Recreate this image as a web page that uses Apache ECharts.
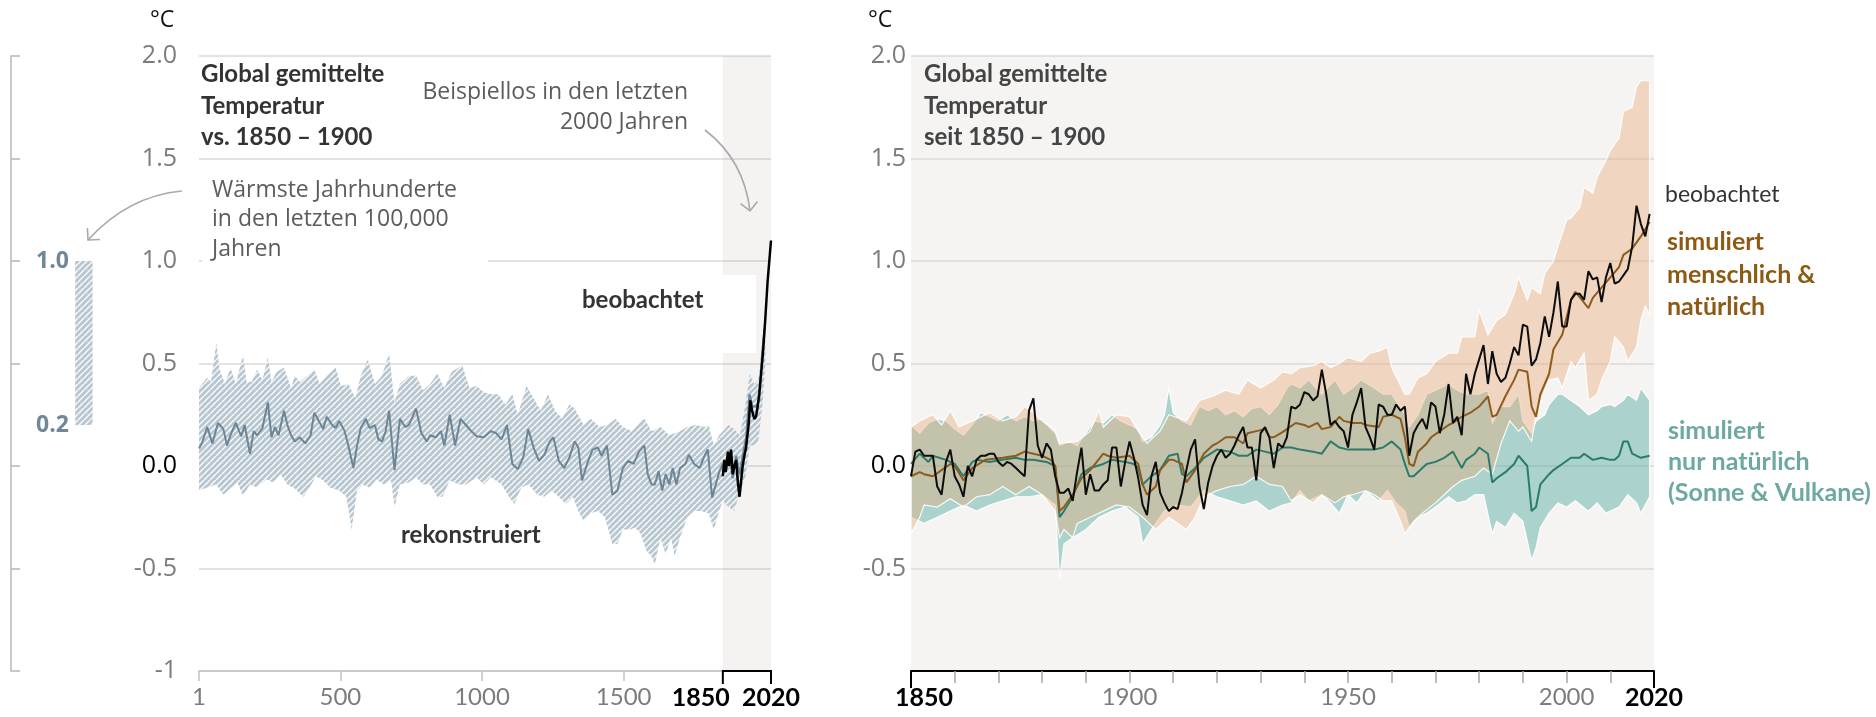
<!DOCTYPE html>
<html>
<head>
<meta charset="utf-8">
<script src="https://cdn.jsdelivr.net/npm/echarts@6/dist/echarts.min.js"></script>
<style>
  html, body { margin: 0; padding: 0; background: #ffffff; }
  #chart { width: 1876px; height: 717px; }
</style>
</head>
<body>
<div id="chart"></div>
<script>
// ---------- Left panel: reconstructed temperature, years 1-2000 (°C vs. 1850-1900) ----------
const reconMedian = [
  [1,0.085],[11,0.11],[30,0.19],[48,0.11],[68,0.21],[87,0.18],[100,0.10],[112,0.15],[131,0.21],[150,0.145],
  [162,0.20],[181,0.06],[194,0.17],[206,0.15],[225,0.185],[244,0.31],[257,0.14],[269,0.19],[282,0.15],[301,0.27],
  [313,0.20],[326,0.15],[339,0.12],[357,0.14],[376,0.11],[395,0.15],[408,0.26],[420,0.23],[439,0.18],[452,0.24],
  [471,0.20],[483,0.185],[496,0.22],[515,0.17],[528,0.10],[546,-0.01],[559,0.10],[572,0.185],[590,0.23],[603,0.185],
  [622,0.20],[634,0.13],[647,0.12],[660,0.17],[672,0.27],[691,-0.02],[710,0.23],[729,0.19],[742,0.20],[767,0.28],
  [786,0.16],[805,0.12],[817,0.15],[836,0.14],[855,0.17],[867,0.10],[886,0.25],[905,0.10],[924,0.23],[943,0.20],
  [962,0.17],[981,0.145],[1006,0.14],[1031,0.17],[1050,0.16],[1069,0.13],[1088,0.20],[1107,0.01],[1126,-0.015],[1145,0.04],
  [1163,0.18],[1182,0.09],[1201,0.025],[1220,0.055],[1239,0.12],[1252,0.14],[1271,0.025],[1290,-0.01],[1308,0.04],[1327,0.12],
  [1340,0.09],[1353,-0.07],[1371,0.01],[1390,0.08],[1409,0.09],[1422,0.05],[1441,0.10],[1460,-0.14],[1478,-0.12],[1497,-0.01],
  [1516,0.025],[1535,0.01],[1554,0.07],[1573,0.10],[1585,-0.04],[1598,-0.09],[1610,-0.09],[1623,-0.025],[1636,-0.12],[1648,-0.04],
  [1661,-0.09],[1673,-0.01],[1686,-0.09],[1699,-0.01],[1718,0.01],[1730,0.055],[1749,0.01],[1768,-0.01],[1787,0.055],[1797,0.08],
  [1812,-0.155],[1825,-0.09],[1838,-0.025],[1850,0.01],[1862,-0.02],[1873,0.05],[1885,-0.06],[1897,0.05],[1909,-0.04],[1920,0.05],
  [1932,0.14],[1944,0.35],[1955,0.29],[1967,0.29],[1979,0.32],[1988,0.54],[1997,0.67]
];
const reconHigh = [
  [1,0.38],[11,0.40],[30,0.43],[43,0.41],[62,0.60],[74,0.47],[93,0.40],[112,0.48],[131,0.40],[156,0.54],
  [169,0.41],[187,0.41],[206,0.47],[225,0.42],[244,0.53],[257,0.41],[275,0.46],[301,0.48],[326,0.38],[339,0.44],
  [357,0.41],[383,0.44],[408,0.47],[427,0.40],[452,0.44],[483,0.48],[502,0.39],[528,0.40],[553,0.33],[572,0.44],
  [597,0.52],[622,0.40],[647,0.44],[672,0.55],[691,0.31],[710,0.40],[742,0.44],[767,0.44],[792,0.37],[817,0.40],
  [842,0.45],[867,0.38],[893,0.46],[930,0.49],[956,0.38],[981,0.39],[1006,0.36],[1031,0.35],[1057,0.35],[1082,0.30],
  [1107,0.35],[1126,0.25],[1157,0.39],[1182,0.33],[1207,0.27],[1233,0.35],[1258,0.27],[1283,0.23],[1308,0.30],[1327,0.28],
  [1359,0.20],[1384,0.23],[1415,0.19],[1441,0.20],[1472,0.23],[1497,0.19],[1529,0.17],[1560,0.22],[1573,0.23],[1598,0.17],
  [1630,0.19],[1661,0.15],[1699,0.17],[1724,0.19],[1755,0.20],[1787,0.19],[1800,0.20],[1818,0.10],[1837,0.15],[1850,0.17],
  [1870,0.20],[1890,0.18],[1910,0.15],[1930,0.30],[1945,0.45],[1960,0.40],[1975,0.42],[1990,0.60],[2000,0.75]
];
const reconLow = [
  [1,-0.12],[30,-0.105],[62,-0.09],[87,-0.14],[112,-0.11],[137,-0.08],[156,-0.145],[181,-0.09],[206,-0.105],[238,-0.065],
  [263,-0.08],[288,-0.04],[313,-0.09],[339,-0.11],[370,-0.15],[389,-0.11],[414,-0.05],[439,-0.07],[464,-0.105],[496,-0.12],
  [521,-0.15],[540,-0.31],[559,-0.12],[578,-0.09],[603,-0.105],[628,-0.065],[653,-0.09],[679,-0.07],[691,-0.20],[710,-0.09],
  [742,-0.08],[767,-0.055],[792,-0.09],[817,-0.09],[842,-0.15],[861,-0.15],[886,-0.07],[918,-0.09],[943,-0.09],[981,-0.055],
  [1006,-0.09],[1031,-0.055],[1069,-0.09],[1095,-0.15],[1114,-0.185],[1139,-0.105],[1164,-0.09],[1195,-0.14],[1220,-0.15],[1245,-0.12],
  [1271,-0.15],[1296,-0.185],[1321,-0.15],[1340,-0.22],[1359,-0.27],[1384,-0.23],[1409,-0.22],[1434,-0.25],[1460,-0.38],[1478,-0.38],
  [1497,-0.31],[1522,-0.31],[1541,-0.30],[1560,-0.33],[1579,-0.41],[1598,-0.44],[1610,-0.48],[1630,-0.35],[1648,-0.43],[1667,-0.35],
  [1680,-0.44],[1699,-0.35],[1724,-0.25],[1749,-0.22],[1774,-0.22],[1800,-0.23],[1818,-0.31],[1837,-0.22],[1850,-0.17],[1870,-0.20],
  [1890,-0.22],[1905,-0.15],[1930,-0.05],[1945,0.10],[1960,0.10],[1975,0.12],[1990,0.30],[2000,0.50]
];
// observed, long view (1850-2020)
const obsLong = [
  [1850,-0.05],[1855,0.03],[1860,-0.03],[1868,0.07],[1872,0.0],[1879,0.08],[1885,-0.04],[1891,0.0],[1897,0.03],[1903,-0.08],
  [1909,-0.15],[1914,-0.08],[1920,0.0],[1926,0.05],[1932,0.09],[1936,0.14],[1941,0.20],[1947,0.32],[1953,0.27],[1961,0.23],
  [1967,0.24],[1973,0.29],[1979,0.36],[1985,0.45],[1991,0.54],[2000,0.72],[2008,0.90],[2020,1.10]
];
// warmest centuries of the last 100,000 years
const warmRange = [0.2, 1.0];

// ---------- Right panel: 1850-2020 ----------
const obsStartYear = 1850;
const obsAnnual = [
  -0.05,0.07,0.08,0.05,0.05,0.05,-0.10,-0.14,0.02,0.08,
  -0.05,-0.09,-0.15,0.00,-0.05,0.03,0.05,0.05,0.06,0.06,
  0.02,0.00,0.02,0.01,-0.01,-0.03,-0.05,0.27,0.33,0.10,
  0.04,0.11,0.08,-0.05,-0.13,-0.13,-0.11,-0.17,-0.03,0.09,
  -0.14,-0.04,-0.12,-0.12,-0.09,-0.07,0.09,0.09,-0.10,0.02,
  0.12,0.04,-0.06,-0.19,-0.24,-0.05,0.02,-0.13,-0.18,-0.22,
  -0.20,-0.21,-0.13,-0.02,0.08,0.13,-0.10,-0.21,-0.08,0.00,
  0.05,0.08,0.04,0.06,0.10,0.15,0.19,0.09,0.09,-0.07,
  0.16,0.19,0.14,-0.01,0.11,0.09,0.14,0.29,0.28,0.30,
  0.36,0.35,0.32,0.34,0.47,0.35,0.20,0.22,0.19,0.17,
  0.09,0.25,0.31,0.38,0.19,0.14,0.08,0.30,0.29,0.25,
  0.25,0.30,0.27,0.29,0.05,0.16,0.20,0.23,0.18,0.31,
  0.29,0.16,0.25,0.40,0.21,0.24,0.15,0.45,0.35,0.45,
  0.52,0.59,0.40,0.56,0.45,0.41,0.43,0.50,0.58,0.54,
  0.69,0.68,0.49,0.52,0.60,0.73,0.63,0.75,0.90,0.68,
  0.68,0.81,0.84,0.84,0.81,0.95,0.91,0.92,0.80,0.92,
  0.99,0.89,0.90,0.93,0.96,1.07,1.27,1.18,1.12,1.23
];
// simulated: human & natural drivers
const hnMedian = [
  [1850,-0.05],[1852,-0.03],[1853,-0.04],[1855,-0.05],[1857,-0.02],[1859,0.01],[1860,0.0],[1862,-0.07],[1864,-0.01],[1867,0.03],
  [1871,0.04],[1874,0.05],[1876,0.07],[1878,0.06],[1880,0.05],[1882,0.03],[1883,0.0],[1884,-0.22],[1885,-0.20],[1887,-0.14],
  [1889,-0.06],[1891,-0.02],[1894,0.06],[1895,0.05],[1897,0.04],[1900,0.05],[1901,0.03],[1902,0.01],[1903,-0.09],[1904,-0.14],
  [1906,-0.10],[1907,-0.02],[1909,0.03],[1910,0.03],[1912,0.01],[1913,-0.08],[1915,-0.02],[1917,0.06],[1919,0.10],[1920,0.11],
  [1922,0.14],[1924,0.14],[1926,0.11],[1927,0.16],[1929,0.17],[1931,0.18],[1932,0.14],[1933,0.14],[1935,0.165],[1936,0.18],
  [1938,0.21],[1940,0.20],[1941,0.19],[1943,0.21],[1944,0.18],[1946,0.19],[1948,0.24],[1949,0.22],[1951,0.21],[1953,0.21],
  [1954,0.20],[1957,0.19],[1958,0.24],[1960,0.25],[1962,0.23],[1963,0.14],[1964,0.01],[1965,0.0],[1966,0.07],[1968,0.11],
  [1969,0.14],[1971,0.17],[1973,0.20],[1974,0.21],[1976,0.24],[1978,0.26],[1980,0.29],[1982,0.34],[1983,0.24],[1984,0.25],
  [1986,0.34],[1988,0.42],[1989,0.47],[1991,0.46],[1992,0.29],[1993,0.24],[1994,0.35],[1996,0.45],[1997,0.57],[1999,0.64],
  [2001,0.81],[2002,0.85],[2005,0.77],[2006,0.82],[2008,0.87],[2010,0.92],[2012,0.97],[2013,1.03],[2015,1.06],[2017,1.12],
  [2019,1.19]
];
const hnHigh = [
  [1850,0.19],[1852,0.22],[1855,0.25],[1857,0.20],[1859,0.27],[1861,0.19],[1864,0.22],[1868,0.26],[1871,0.22],[1874,0.24],
  [1876,0.29],[1878,0.26],[1880,0.22],[1883,0.17],[1884,0.11],[1888,0.12],[1891,0.17],[1893,0.27],[1894,0.19],[1897,0.25],
  [1900,0.24],[1902,0.17],[1904,0.11],[1907,0.17],[1909,0.25],[1913,0.22],[1916,0.32],[1919,0.34],[1922,0.37],[1925,0.35],
  [1927,0.42],[1930,0.38],[1933,0.42],[1935,0.46],[1937,0.45],[1939,0.48],[1942,0.49],[1944,0.51],[1946,0.48],[1948,0.50],
  [1950,0.53],[1953,0.51],[1955,0.55],[1957,0.56],[1959,0.58],[1960,0.48],[1963,0.35],[1964,0.35],[1966,0.43],[1968,0.45],
  [1970,0.51],[1973,0.55],[1975,0.55],[1976,0.63],[1979,0.63],[1980,0.76],[1982,0.64],[1984,0.71],[1986,0.74],[1988,0.84],
  [1989,0.92],[1991,0.81],[1992,0.87],[1994,0.84],[1995,0.94],[1997,1.00],[1998,1.07],[2000,1.20],[2001,1.21],[2003,1.26],
  [2004,1.36],[2006,1.33],[2007,1.41],[2009,1.49],[2010,1.54],[2012,1.60],[2013,1.73],[2015,1.75],[2016,1.85],[2017,1.88],
  [2019,1.88]
];
const hnLow = [
  [1850,-0.33],[1852,-0.25],[1853,-0.19],[1856,-0.20],[1859,-0.16],[1862,-0.20],[1865,-0.15],[1868,-0.14],[1871,-0.10],[1874,-0.14],
  [1877,-0.10],[1880,-0.14],[1883,-0.22],[1884,-0.35],[1885,-0.31],[1887,-0.35],[1888,-0.28],[1891,-0.25],[1894,-0.22],[1897,-0.19],
  [1900,-0.20],[1903,-0.25],[1906,-0.31],[1909,-0.25],[1913,-0.31],[1915,-0.25],[1917,-0.15],[1920,-0.12],[1923,-0.10],[1926,-0.09],
  [1929,-0.05],[1932,-0.09],[1935,-0.10],[1937,-0.17],[1939,-0.14],[1942,-0.18],[1944,-0.14],[1947,-0.18],[1949,-0.15],[1951,-0.14],
  [1954,-0.12],[1956,-0.14],[1958,-0.17],[1960,-0.17],[1962,-0.27],[1963,-0.33],[1965,-0.27],[1967,-0.23],[1970,-0.18],[1972,-0.14],
  [1974,-0.10],[1976,-0.07],[1979,-0.05],[1981,-0.01],[1983,-0.04],[1985,0.11],[1987,0.22],[1989,0.17],[1990,0.19],[1992,0.12],
  [1993,0.25],[1995,0.37],[1996,0.42],[1998,0.43],[1999,0.38],[2001,0.51],[2002,0.48],[2004,0.55],[2005,0.32],[2007,0.35],
  [2008,0.42],[2010,0.51],[2011,0.63],[2013,0.58],[2014,0.51],[2016,0.58],[2017,0.71],[2018,0.78],[2019,0.74]
];
// simulated: natural drivers only (sun & volcanoes)
const natMedian = [
  [1850,0.01],[1852,0.06],[1854,0.02],[1855,0.05],[1858,0.03],[1860,0.01],[1862,-0.05],[1864,0.02],[1865,0.03],[1868,0.02],
  [1871,0.03],[1874,0.04],[1876,0.03],[1878,0.03],[1881,0.02],[1883,0.0],[1884,-0.25],[1885,-0.22],[1887,-0.15],[1889,-0.04],
  [1891,-0.01],[1894,0.01],[1896,0.03],[1899,0.02],[1901,0.01],[1902,-0.01],[1903,-0.09],[1905,-0.05],[1907,-0.02],[1909,0.05],
  [1911,0.06],[1912,-0.04],[1913,-0.05],[1915,-0.01],[1917,0.04],[1920,0.08],[1923,0.07],[1925,0.05],[1927,0.05],[1929,0.08],
  [1931,0.07],[1933,0.06],[1935,0.09],[1937,0.09],[1939,0.08],[1942,0.07],[1944,0.06],[1946,0.12],[1948,0.09],[1950,0.08],
  [1952,0.08],[1954,0.08],[1956,0.08],[1958,0.09],[1960,0.12],[1962,0.08],[1963,0.01],[1964,-0.05],[1965,-0.05],[1967,-0.01],
  [1968,0.01],[1970,0.02],[1972,0.04],[1974,0.07],[1976,-0.01],[1977,0.03],[1979,0.06],[1980,0.09],[1982,0.06],[1983,-0.08],
  [1984,-0.06],[1986,-0.03],[1988,0.01],[1989,0.05],[1991,0.0],[1992,-0.22],[1993,-0.20],[1994,-0.09],[1996,-0.04],[1997,-0.02],
  [1999,0.01],[2001,0.04],[2003,0.04],[2004,0.06],[2006,0.03],[2008,0.04],[2010,0.03],[2011,0.03],[2012,0.05],[2013,0.12],
  [2014,0.12],[2015,0.06],[2017,0.04],[2019,0.05]
];
const natHigh = [
  [1850,0.20],[1852,0.16],[1854,0.21],[1856,0.23],[1858,0.22],[1860,0.18],[1862,0.15],[1864,0.20],[1866,0.26],[1868,0.24],
  [1870,0.22],[1872,0.25],[1874,0.22],[1876,0.24],[1878,0.22],[1880,0.23],[1882,0.18],[1883,0.16],[1884,0.10],[1886,0.12],
  [1888,0.10],[1890,0.16],[1892,0.22],[1894,0.21],[1896,0.25],[1898,0.22],[1900,0.20],[1902,0.18],[1903,0.12],[1905,0.14],
  [1907,0.20],[1908,0.25],[1909,0.38],[1910,0.26],[1912,0.22],[1914,0.20],[1916,0.29],[1918,0.27],[1920,0.29],[1922,0.25],
  [1924,0.27],[1926,0.24],[1928,0.28],[1930,0.29],[1932,0.25],[1934,0.30],[1936,0.38],[1937,0.40],[1939,0.38],[1941,0.42],
  [1943,0.37],[1944,0.35],[1947,0.42],[1949,0.35],[1951,0.38],[1953,0.42],[1956,0.38],[1958,0.35],[1960,0.35],[1963,0.25],
  [1964,0.19],[1966,0.25],[1968,0.35],[1970,0.37],[1973,0.40],[1975,0.37],[1977,0.35],[1980,0.35],[1982,0.37],[1983,0.21],
  [1985,0.29],[1987,0.29],[1989,0.35],[1990,0.22],[1992,0.16],[1993,0.22],[1995,0.25],[1996,0.30],[1998,0.35],[1999,0.35],
  [2001,0.32],[2003,0.29],[2005,0.25],[2007,0.27],[2008,0.29],[2010,0.30],[2011,0.29],[2013,0.32],[2014,0.35],[2016,0.32],
  [2017,0.38],[2019,0.32]
];
const natLow = [
  [1850,-0.25],[1853,-0.28],[1856,-0.25],[1859,-0.22],[1862,-0.19],[1865,-0.22],[1868,-0.19],[1871,-0.17],[1874,-0.15],[1877,-0.15],
  [1880,-0.14],[1883,-0.19],[1884,-0.55],[1885,-0.38],[1887,-0.35],[1890,-0.31],[1893,-0.25],[1896,-0.22],[1899,-0.20],[1902,-0.25],
  [1903,-0.38],[1905,-0.31],[1908,-0.22],[1911,-0.19],[1914,-0.20],[1917,-0.12],[1920,-0.15],[1923,-0.17],[1926,-0.19],[1929,-0.17],
  [1932,-0.22],[1935,-0.19],[1937,-0.18],[1939,-0.12],[1941,-0.17],[1944,-0.14],[1946,-0.18],[1948,-0.23],[1950,-0.14],[1952,-0.18],
  [1954,-0.12],[1957,-0.17],[1959,-0.12],[1961,-0.18],[1963,-0.22],[1964,-0.30],[1966,-0.25],[1968,-0.23],[1970,-0.20],[1973,-0.15],
  [1975,-0.18],[1977,-0.17],[1979,-0.14],[1981,-0.14],[1983,-0.33],[1984,-0.27],[1986,-0.30],[1988,-0.23],[1990,-0.27],[1992,-0.46],
  [1993,-0.40],[1994,-0.30],[1996,-0.23],[1998,-0.18],[2000,-0.20],[2002,-0.17],[2005,-0.22],[2007,-0.18],[2009,-0.23],[2012,-0.20],
  [2014,-0.14],[2016,-0.18],[2017,-0.23],[2019,-0.15]
];

// axis tick labels
const longTicks = [1, 500, 1000, 1500];
const longBold = [1850, 2020];
const recentLabels = [1850, 1900, 1950, 2000, 2020];

// ---------- styling helpers ----------
const FONT_TXT = 'Lato, "Open Sans", sans-serif';
const FONT_NUM = '"Open Sans", Lato, sans-serif';
const GRID_TOP = 56, GRID_H = 615;

function hatchPattern(bg, stroke, step, lw) {
  const c = document.createElement('canvas');
  c.width = step; c.height = step;
  const g = c.getContext('2d');
  g.fillStyle = bg; g.fillRect(0, 0, step, step);
  g.strokeStyle = stroke; g.lineWidth = lw;
  g.beginPath();
  for (let k = -1; k <= 1; k++) {
    g.moveTo(k * step, step);
    g.lineTo(k * step + step, 0);
  }
  g.stroke();
  return { image: c, repeat: 'repeat' };
}
const hatch = hatchPattern('#b8c6d0', 'rgba(255,255,255,0.9)', 6, 1.5);

// polygon between an upper and a lower edge, through the axis scales
function bandRenderer(upper, lower, style) {
  return function (params, api) {
    const pts = upper.map(p => api.coord(p))
      .concat(lower.slice().reverse().map(p => api.coord(p)));
    return { type: 'polygon', shape: { points: pts }, style: style, silent: true };
  };
}

function yLabel(v) {
  if (v === 0) return '{z|0.0}';
  if (v === -1) return '-1';
  return v.toFixed(1);
}

const chart = echarts.init(document.getElementById('chart'), null, { renderer: 'canvas' });

const option = {
  animation: false,
  backgroundColor: '#ffffff',
  grid: [
    { left: 199, top: GRID_TOP, width: 572, height: GRID_H },
    { left: 911, top: GRID_TOP, width: 743, height: GRID_H, show: true, backgroundColor: '#f5f4f2', borderWidth: 0 },
    { left: 11, top: GRID_TOP, width: 85, height: GRID_H }
  ],
  xAxis: [
    {
      gridIndex: 0, type: 'value', min: 1, max: 2020,
      axisLine: { onZero: false, lineStyle: { color: '#c2c2c2', width: 1.5 } },
      axisTick: { customValues: longTicks, length: 10, lineStyle: { color: '#c2c2c2', width: 1.5 } },
      axisLabel: {
        customValues: longTicks.concat(longBold), margin: 14,
        formatter: v => v === 1850 ? '{b|1850}' : (v === 2020 ? '{c|2020}' : '{n|' + v + '}'),
        rich: {
          n: { fontFamily: FONT_TXT, fontSize: 24, color: '#7c7c7c' },
          b: { fontFamily: FONT_TXT, fontSize: 25, fontWeight: 'bold', color: '#000', padding: [0, 44, 0, 0] },
          c: { fontFamily: FONT_TXT, fontSize: 25, fontWeight: 'bold', color: '#000' }
        }
      },
      splitLine: { show: false }
    },
    {
      gridIndex: 1, type: 'value', min: 1850, max: 2020, interval: 10,
      axisLine: { onZero: false, lineStyle: { color: '#000', width: 2 } },
      axisTick: { length: 12, lineStyle: { color: '#a8a8a8', width: 1.5 } },
      axisLabel: {
        customValues: recentLabels, margin: 14,
        formatter: v => v === 1850 ? '{b|1850}' : (v === 2020 ? '{c|2020}' : '{n|' + v + '}'),
        rich: {
          n: { fontFamily: FONT_TXT, fontSize: 24, color: '#7c7c7c' },
          b: { fontFamily: FONT_TXT, fontSize: 25, fontWeight: 'bold', color: '#000', padding: [0, 0, 0, 26] },
          c: { fontFamily: FONT_TXT, fontSize: 25, fontWeight: 'bold', color: '#000' }
        }
      },
      splitLine: { show: false }
    },
    { gridIndex: 2, type: 'value', min: 0, max: 1, show: false }
  ],
  yAxis: [
    {
      gridIndex: 0, type: 'value', min: -1, max: 2, interval: 0.5,
      axisLine: { show: false }, axisTick: { show: false },
      axisLabel: {
        margin: 22, formatter: yLabel, fontFamily: FONT_NUM, fontSize: 25, color: '#7c7c7c',
        rich: { z: { fontFamily: FONT_NUM, fontSize: 25, color: '#000' } }
      },
      splitLine: { lineStyle: { color: '#dadada', width: 1.5 } }
    },
    {
      gridIndex: 1, type: 'value', min: -1, max: 2, interval: 0.5,
      axisLine: { show: false }, axisTick: { show: false },
      axisLabel: {
        margin: 5, formatter: v => v === -1 ? '' : yLabel(v), fontFamily: FONT_NUM, fontSize: 25, color: '#7c7c7c',
        rich: { z: { fontFamily: FONT_NUM, fontSize: 25, color: '#000' } }
      },
      splitLine: { lineStyle: { color: '#dadada', width: 1.5 } }
    },
    {
      gridIndex: 2, type: 'value', min: -1, max: 2, interval: 0.5,
      axisLine: { show: true, onZero: false, lineStyle: { color: '#b8b8b8', width: 1.5 } },
      axisTick: { show: true, inside: true, length: 9, lineStyle: { color: '#b8b8b8', width: 1.5 } },
      axisLabel: {
        inside: true, margin: 25, customValues: warmRange,
        formatter: v => v.toFixed(1), fontFamily: FONT_NUM, fontSize: 23, fontWeight: 'bold', color: '#6f8797'
      },
      splitLine: { show: false }
    }
  ],
  series: [
    // 1850-2020 shading of the long view
    {
      type: 'line', xAxisIndex: 0, yAxisIndex: 0, data: [[1850, -1]], symbol: 'none', silent: true,
      lineStyle: { width: 0 }, z: 1,
      markArea: { silent: true, itemStyle: { color: 'rgba(120,100,80,0.075)' }, data: [[{ xAxis: 1850 }, { xAxis: 2020 }]] }
    },
    {
      name: 'rekonstruiert (Bandbreite)', type: 'custom', xAxisIndex: 0, yAxisIndex: 0,
      data: [reconHigh[0]], renderItem: bandRenderer(reconHigh, reconLow, { fill: hatch }), z: 2, silent: true
    },
    {
      name: 'rekonstruiert', type: 'line', xAxisIndex: 0, yAxisIndex: 0, data: reconMedian,
      symbol: 'none', lineStyle: { color: '#6d8696', width: 2 }, z: 3, silent: true
    },
    {
      name: 'beobachtet (lang)', type: 'line', xAxisIndex: 0, yAxisIndex: 0, data: obsLong,
      symbol: 'none', lineStyle: { color: '#000', width: 2.5 }, z: 4, silent: true
    },
    {
      name: 'nur natürlich (Bandbreite)', type: 'custom', xAxisIndex: 1, yAxisIndex: 1,
      data: [natHigh[0]], z: 2, silent: true,
      renderItem: bandRenderer(natHigh, natLow, { fill: 'rgba(60,160,150,0.40)', stroke: 'rgba(255,255,255,0.9)', lineWidth: 1.2 })
    },
    {
      name: 'menschlich & natürlich (Bandbreite)', type: 'custom', xAxisIndex: 1, yAxisIndex: 1,
      data: [hnHigh[0]], z: 2, silent: true,
      renderItem: bandRenderer(hnHigh, hnLow, { fill: 'rgba(232,170,120,0.40)', stroke: 'rgba(255,255,255,0.9)', lineWidth: 1.2 })
    },
    {
      name: 'simuliert nur natürlich', type: 'line', xAxisIndex: 1, yAxisIndex: 1, data: natMedian,
      symbol: 'none', lineStyle: { color: '#2b7b6d', width: 2 }, z: 3, silent: true
    },
    {
      name: 'simuliert menschlich & natürlich', type: 'line', xAxisIndex: 1, yAxisIndex: 1, data: hnMedian,
      symbol: 'none', lineStyle: { color: '#8d5b1c', width: 2 }, z: 3, silent: true
    },
    {
      name: 'beobachtet', type: 'line', xAxisIndex: 1, yAxisIndex: 1,
      data: obsAnnual.map((v, i) => [obsStartYear + i, v]),
      symbol: 'none', lineStyle: { color: '#0d0d0d', width: 2 }, z: 4, silent: true
    },
    // warmest centuries bar
    {
      type: 'custom', xAxisIndex: 2, yAxisIndex: 2, data: [warmRange], silent: true, z: 2,
      renderItem: function (params, api) {
        const lo = api.coord([0.755, api.value(0)]);
        const hi = api.coord([0.96, api.value(1)]);
        return { type: 'rect', shape: { x: lo[0], y: hi[1], width: hi[0] - lo[0], height: lo[1] - hi[1] }, style: { fill: hatch } };
      }
    }
  ]
};
chart.setOption(option);

// ---------- annotations ----------
function text(x, y, str, font, fill, align) {
  return { type: 'text', x: x, y: y, z: 100, silent: true,
    style: { text: str, font: font, fill: fill, align: align || 'left', verticalAlign: 'middle' } };
}
function arrow(x1, y1, cx, cy, x2, y2) {
  const dx = x2 - cx, dy = y2 - cy, len = Math.hypot(dx, dy);
  const ux = -dx / len, uy = -dy / len, L = 12, a = Math.PI / 4;
  const w1 = [x2 + L * (ux * Math.cos(a) - uy * Math.sin(a)), y2 + L * (ux * Math.sin(a) + uy * Math.cos(a))];
  const w2 = [x2 + L * (ux * Math.cos(-a) - uy * Math.sin(-a)), y2 + L * (ux * Math.sin(-a) + uy * Math.cos(-a))];
  const st = { stroke: '#a9a9a9', lineWidth: 1.6, fill: null };
  return [
    { type: 'bezierCurve', z: 100, silent: true, shape: { x1: x1, y1: y1, x2: x2, y2: y2, cpx1: cx, cpy1: cy }, style: st },
    { type: 'polyline', z: 100, silent: true, shape: { points: [w1, [x2, y2], w2] }, style: st }
  ];
}

const px = (g, x, y) => chart.convertToPixel({ gridIndex: g }, [x, y]);
const a0 = px(0, 1850, -1), a1 = px(0, 2020, -1);
const b0 = px(1, 1850, -1), b1 = px(1, 2020, -1);

const TITLE = 'bold 24px ' + FONT_TXT;
const NOTE = '23px ' + FONT_NUM;
const LABEL = 'bold 24px ' + FONT_TXT;
const LEGEND = 'bold 25px ' + FONT_TXT;

const graphics = [
  // label backgrounds
  { type: 'rect', z: 50, silent: true, shape: { x: 202, y: 175, width: 286, height: 95 }, style: { fill: '#ffffff' } },
  { type: 'rect', z: 50, silent: true, shape: { x: 570, y: 275, width: 186, height: 78 }, style: { fill: '#ffffff' } },
  // black bracket for 1850-2020 on the long axis
  { type: 'polyline', z: 60, silent: true,
    shape: { points: [[a0[0], a0[1] + 13], [a0[0], a0[1]], [a1[0], a1[1]], [a1[0], a1[1] + 13]] },
    style: { stroke: '#000', lineWidth: 2, fill: null } },
  // end ticks of the recent axis
  { type: 'line', z: 60, silent: true, shape: { x1: b0[0], y1: b0[1], x2: b0[0], y2: b0[1] + 17 }, style: { stroke: '#000', lineWidth: 2 } },
  { type: 'line', z: 60, silent: true, shape: { x1: b1[0], y1: b1[1], x2: b1[0], y2: b1[1] + 17 }, style: { stroke: '#000', lineWidth: 2 } },

  text(150, 20, '°C', '23px ' + FONT_NUM, '#111'),
  text(868, 20, '°C', '23px ' + FONT_NUM, '#111'),

  text(201, 74, 'Global gemittelte', TITLE, '#333333'),
  text(201, 106, 'Temperatur', TITLE, '#333333'),
  text(201, 137, 'vs. 1850 – 1900', TITLE, '#333333'),

  text(924, 74, 'Global gemittelte', TITLE, '#444444'),
  text(924, 106, 'Temperatur', TITLE, '#444444'),
  text(924, 137, 'seit 1850 – 1900', TITLE, '#444444'),

  text(688, 92, 'Beispiellos in den letzten', NOTE, '#5c5c5c', 'right'),
  text(688, 122, '2000 Jahren', NOTE, '#5c5c5c', 'right'),

  text(212, 190, 'Wärmste Jahrhunderte', NOTE, '#5c5c5c'),
  text(212, 219, 'in den letzten 100,000', NOTE, '#5c5c5c'),
  text(212, 249, 'Jahren', NOTE, '#5c5c5c'),

  text(582, 300, 'beobachtet', LABEL, '#333333'),
  text(401, 535, 'rekonstruiert', LABEL, '#333333'),

  text(1665, 195, 'beobachtet', '23px ' + FONT_TXT, '#333333'),
  text(1667, 242, 'simuliert', LEGEND, '#8d5a14'),
  text(1667, 275, 'menschlich &', LEGEND, '#8d5a14'),
  text(1667, 307, 'natürlich', LEGEND, '#8d5a14'),
  text(1668, 431, 'simuliert', LEGEND, '#6da8a1'),
  text(1668, 462, 'nur natürlich', LEGEND, '#6da8a1'),
  text(1668, 493, '(Sonne & Vulkane)', LEGEND, '#6da8a1')
].concat(
  arrow(182, 191, 128, 196, 88, 240),
  arrow(705, 130, 744, 160, 750, 211)
);

chart.setOption({ graphic: graphics });
</script>
</body>
</html>
